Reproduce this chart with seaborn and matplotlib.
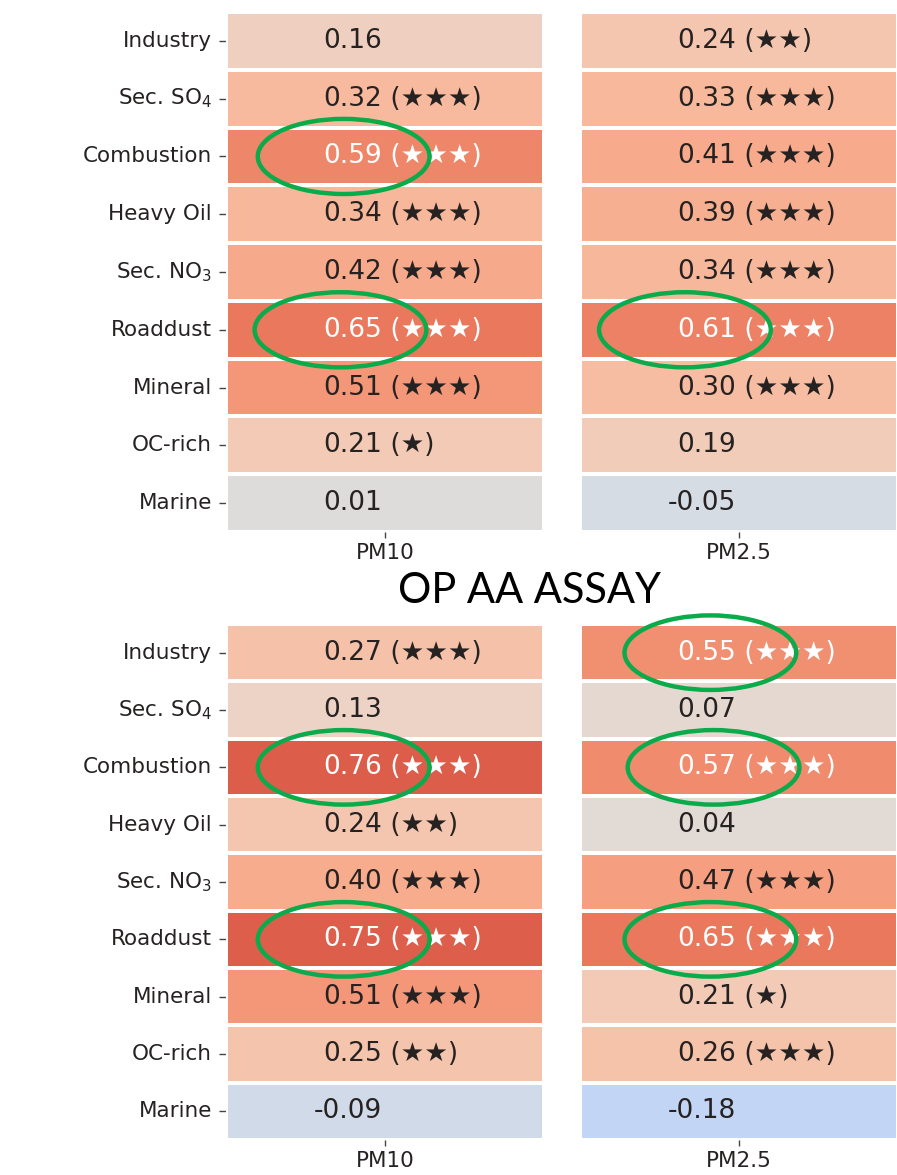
import numpy as np
import pandas as pd
import seaborn as sns
import matplotlib.pyplot as plt
from matplotlib.patches import Ellipse

# ---------------- data ----------------
sources = ["Industry", "Sec. SO$_4$", "Combustion", "Heavy Oil", "Sec. NO$_3$",
           "Roaddust", "Mineral", "OC-rich", "Marine"]
columns = ["PM10", "PM2.5"]

top_pm10 = [0.16, 0.32, 0.59, 0.34, 0.42, 0.65, 0.51, 0.21, 0.01]
top_pm10_stars = [0, 3, 3, 3, 3, 3, 3, 1, 0]
top_pm25 = [0.24, 0.33, 0.41, 0.39, 0.34, 0.61, 0.30, 0.19, -0.05]
top_pm25_stars = [2, 3, 3, 3, 3, 3, 3, 0, 0]

aa_pm10 = [0.27, 0.13, 0.76, 0.24, 0.40, 0.75, 0.51, 0.25, -0.09]
aa_pm10_stars = [3, 0, 3, 2, 3, 3, 3, 2, 0]
aa_pm25 = [0.55, 0.07, 0.57, 0.04, 0.47, 0.65, 0.21, 0.26, -0.18]
aa_pm25_stars = [3, 0, 3, 0, 3, 3, 1, 3, 0]

title_aa = "OP AA ASSAY"

# highlighted cells: (panel, column, row, ellipse x-centre within cell)
highlights = [
    (0, 0, 2, 0.37), (0, 0, 5, 0.36), (0, 1, 5, 0.33),
    (1, 1, 0, 0.41), (1, 0, 2, 0.37), (1, 1, 2, 0.42),
    (1, 0, 5, 0.37), (1, 1, 5, 0.41),
]

panels = [
    {"PM10": (top_pm10, top_pm10_stars), "PM2.5": (top_pm25, top_pm25_stars)},
    {"PM10": (aa_pm10, aa_pm10_stars), "PM2.5": (aa_pm25, aa_pm25_stars)},
]

# ---------------- layout ----------------
W, H = 897, 1175
fig = plt.figure(figsize=(W / 100, H / 100), dpi=100)
sns.set_style("white")
plt.rcParams["font.family"] = ["DejaVu Sans"]

panel_y = [(12, 532), (624, 1140)]
col_x = [(226, 544), (580, 898)]

dark = "#262222"
ann_fs = 19
tick_fs = 15.5

axes = {}
for p, (y0, y1) in enumerate(panel_y):
    for c, (x0, x1) in enumerate(col_x):
        ax = fig.add_axes([x0 / W, 1 - y1 / H, (x1 - x0) / W, (y1 - y0) / H])
        axes[(p, c)] = ax
        col = columns[c]
        vals, stars = panels[p][col]
        df = pd.DataFrame({col: vals}, index=sources)
        sns.heatmap(df, ax=ax, cmap="coolwarm", vmin=-1, vmax=1, cbar=False,
                    linewidths=1.6, linecolor="white", annot=False,
                    xticklabels=True, yticklabels=(c == 0))
        ax.set_xlabel("")
        ax.set_ylabel("")
        ax.tick_params(axis="y", which="both", length=5, width=1,
                       color="#444444", labelsize=tick_fs, labelcolor=dark,
                       left=(c == 0), pad=5)
        ax.tick_params(axis="x", which="both", length=4, width=1,
                       color="#444444", labelsize=tick_fs, labelcolor=dark,
                       bottom=True, direction="out", pad=4)
        for lab in ax.get_yticklabels():
            lab.set_rotation(0)
        for lab in ax.get_xticklabels():
            lab.set_rotation(0)
        for i, (v, s) in enumerate(zip(vals, stars)):
            tc = "white" if v > 0.53 else dark
            ax.text(0.49, i + 0.5, f"{v:.2f}", ha="right", va="center",
                    fontsize=ann_fs, color=tc)
            if s > 0:
                ax.text(0.49, i + 0.5, " (" + "★" * s + ")", ha="left",
                        va="center", fontsize=ann_fs, color=tc)

for (p, c, r, cx) in highlights:
    ax = axes[(p, c)]
    e = Ellipse((cx, r + 0.5), width=0.54, height=1.3, fill=False,
                edgecolor="#0bab4b", linewidth=3.2, clip_on=False, zorder=10)
    ax.add_patch(e)

fig.text(529 / W, 1 - 591 / H, title_aa, ha="center", va="center",
         fontsize=30, family="Lato", color="black")

fig.savefig("out.png", dpi=100)
